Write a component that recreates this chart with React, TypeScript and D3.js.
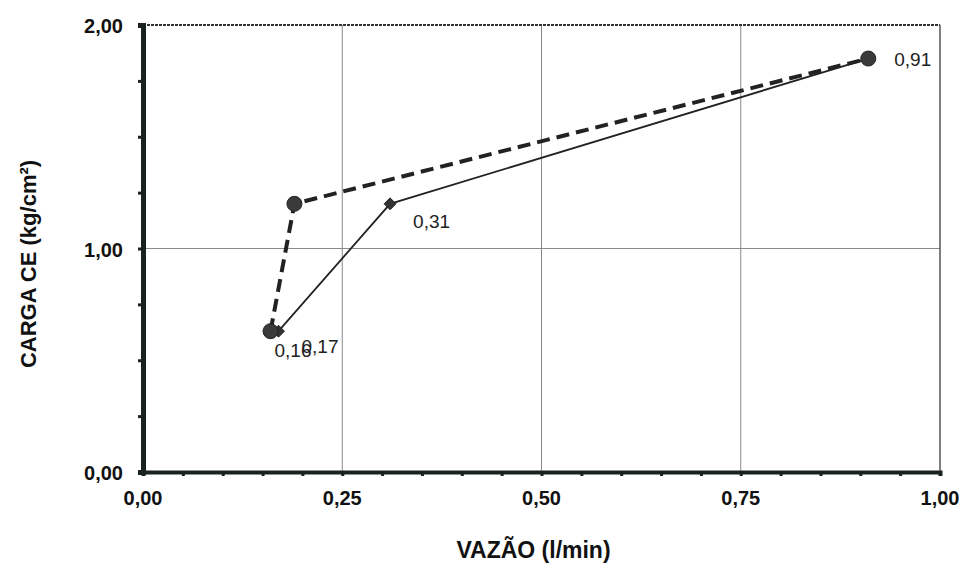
import { useEffect, useRef } from "react";
import * as d3 from "d3";

// dashed series (circle markers)
const dashedX = [0.16, 0.19, 0.91];
const dashedY = [0.63, 1.2, 1.85];
// solid series (diamond markers)
const solidX = [0.17, 0.31, 0.91];
const solidY = [0.63, 1.2, 1.85];

const xTicks = [0, 0.25, 0.5, 0.75, 1];
const yTicks = [0, 1, 2];

// data labels: value shown, anchored to a point
const labelText = ["0,16", "0,17", "0,31", "0,91"];
const labelX = [0.16, 0.17, 0.31, 0.91];
const labelY = [0.63, 0.63, 1.2, 1.85];
const labelDx = [4, 23, 23, 26];
const labelDy = [26, 22, 24, 7];

const fmt = (v: number) => v.toFixed(2).replace(".", ",");

export default function App() {
  const svgRef = useRef<SVGSVGElement>(null);

  useEffect(() => {
    const Width = 964;
    const Height = 566;
    const Margin = { top: 25, right: 24, bottom: 94, left: 143 };

    const svg = d3.select(svgRef.current);
    svg.selectAll("*").remove();

    const x = d3.scaleLinear().domain([0, 1]).range([Margin.left, Width - Margin.right]);
    const y = d3.scaleLinear().domain([0, 2]).range([Height - Margin.bottom, Margin.top]);

    const font = "'Liberation Sans', Arial, sans-serif";

    svg.append("rect").attr("width", Width).attr("height", Height).attr("fill", "#fff");

    // grid
    svg
      .selectAll(".vgrid")
      .data(xTicks.slice(1, -1))
      .join("line")
      .attr("x1", (d) => x(d))
      .attr("x2", (d) => x(d))
      .attr("y1", y(2))
      .attr("y2", y(0))
      .attr("stroke", "#8a8a8a")
      .attr("stroke-width", 1);

    svg
      .selectAll(".hgrid")
      .data(yTicks.slice(1, -1))
      .join("line")
      .attr("x1", x(0))
      .attr("x2", x(1))
      .attr("y1", (d) => y(d))
      .attr("y2", (d) => y(d))
      .attr("stroke", "#8a8a8a")
      .attr("stroke-width", 1);

    // plot frame top/right
    svg
      .append("line")
      .attr("x1", x(0))
      .attr("x2", x(1))
      .attr("y1", y(2))
      .attr("y2", y(2))
      .attr("stroke", "#333")
      .attr("stroke-width", 2)
      .attr("stroke-dasharray", "3,1");
    svg
      .append("line")
      .attr("x1", x(1))
      .attr("x2", x(1))
      .attr("y1", y(2))
      .attr("y2", y(0))
      .attr("stroke", "#555")
      .attr("stroke-width", 1.5);

    // x axis
    const xAxis = svg
      .append("g")
      .attr("transform", `translate(0,${y(0)})`)
      .call(
        d3
          .axisBottom(x)
          .tickValues(d3.range(0, 1.0001, 0.05))
          .tickSize(4)
          .tickFormat(() => "")
      );
    xAxis.select(".domain").attr("stroke", "#1a221e").attr("stroke-width", 4);
    xAxis.selectAll(".tick line").attr("stroke", "#1a221e").attr("stroke-width", 3);

    svg
      .selectAll(".xlab")
      .data(xTicks)
      .join("text")
      .attr("x", (d) => x(d))
      .attr("y", y(0) + 33)
      .attr("text-anchor", "middle")
      .attr("font-family", font)
      .attr("font-weight", "bold")
      .attr("font-size", 20)
      .attr("fill", "#111")
      .text(fmt);

    // y axis
    const yAxis = svg
      .append("g")
      .attr("transform", `translate(${x(0)},0)`)
      .call(
        d3
          .axisLeft(y)
          .tickValues(d3.range(0, 2.0001, 0.25))
          .tickSize(5)
          .tickFormat(() => "")
      );
    yAxis.select(".domain").attr("stroke", "#1a221e").attr("stroke-width", 5);
    yAxis.selectAll(".tick line").attr("stroke", "#1a221e").attr("stroke-width", 3);

    svg
      .selectAll(".ylab")
      .data(yTicks)
      .join("text")
      .attr("x", x(0) - 20)
      .attr("y", (d) => y(d) + 8)
      .attr("text-anchor", "end")
      .attr("font-family", font)
      .attr("font-weight", "bold")
      .attr("font-size", 20)
      .attr("fill", "#111")
      .text(fmt);

    // series
    const line = d3
      .line<[number, number]>()
      .x((d) => x(d[0]))
      .y((d) => y(d[1]));

    const dashed = dashedX.map((v, i) => [v, dashedY[i]] as [number, number]);
    const solid = solidX.map((v, i) => [v, solidY[i]] as [number, number]);

    svg
      .append("path")
      .datum(solid)
      .attr("d", line)
      .attr("fill", "none")
      .attr("stroke", "#222")
      .attr("stroke-width", 1.8);

    svg
      .append("path")
      .datum(dashed)
      .attr("d", line)
      .attr("fill", "none")
      .attr("stroke", "#222")
      .attr("stroke-width", 4)
      .attr("stroke-dasharray", "13,7");

    svg
      .selectAll(".diamond")
      .data(solid)
      .join("path")
      .attr("d", d3.symbol(d3.symbolDiamond2, 90))
      .attr("transform", (d) => `translate(${x(d[0])},${y(d[1])})`)
      .attr("fill", "#333")
      .attr("stroke", "#222");

    svg
      .selectAll(".circle")
      .data(dashed)
      .join("circle")
      .attr("cx", (d) => x(d[0]))
      .attr("cy", (d) => y(d[1]))
      .attr("r", 7.5)
      .attr("fill", "#3a3a3a")
      .attr("stroke", "#222")
      .attr("stroke-width", 1);

    // data labels
    svg
      .selectAll(".dlabel")
      .data(labelText)
      .join("text")
      .attr("x", (d, i) => x(labelX[i]) + labelDx[i])
      .attr("y", (d, i) => y(labelY[i]) + labelDy[i])
      .attr("font-family", font)
      .attr("font-size", 19)
      .attr("fill", "#222")
      .text((d) => d);

    // axis titles
    svg
      .append("text")
      .attr("x", (x(0) + x(1)) / 2 - 8)
      .attr("y", Height - 8)
      .attr("text-anchor", "middle")
      .attr("font-family", font)
      .attr("font-weight", "bold")
      .attr("font-size", 23)
      .attr("fill", "#111")
      .text("VAZÃO (l/min)");

    svg
      .append("text")
      .attr("transform", `translate(36,${264}) rotate(-90)`)
      .attr("text-anchor", "middle")
      .attr("font-family", font)
      .attr("font-weight", "bold")
      .attr("font-size", 22)
      .attr("fill", "#111")
      .text("CARGA CE (kg/cm²)");
  }, []);

  return (
    <svg
      ref={svgRef}
      width={964}
      height={566}
      style={{ position: "absolute", left: 0, top: 0, display: "block" }}
    ></svg>
  );
}
